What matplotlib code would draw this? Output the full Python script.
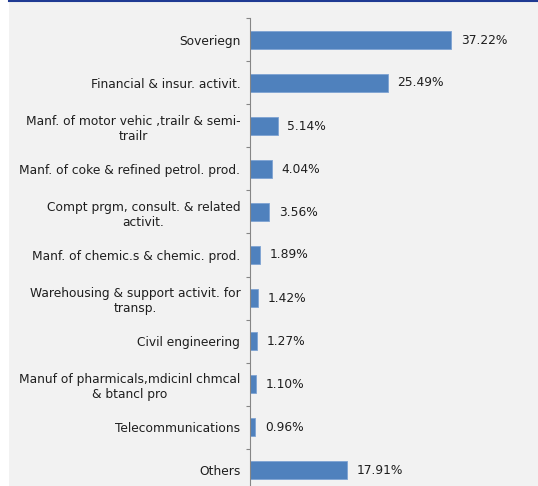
import matplotlib
matplotlib.use("Agg")
import matplotlib.pyplot as plt
from matplotlib.patches import Rectangle
from matplotlib.lines import Line2D

# sector exposure, top to bottom
sectors = [
    "Soveriegn",
    "Financial & insur. activit.",
    "Manf. of motor vehic ,trailr & semi-\ntrailr",
    "Manf. of coke & refined petrol. prod.",
    "Compt prgm, consult. & related\nactivit.",
    "Manf. of chemic.s & chemic. prod.",
    "Warehousing & support activit. for\ntransp.",
    "Civil engineering",
    "Manuf of pharmicals,mdicinl chmcal\n& btancl pro",
    "Telecommunications",
    "Others",
]
shares = [37.22, 25.49, 5.14, 4.04, 3.56, 1.89, 1.42, 1.27, 1.10, 0.96, 17.91]

BG = "#f2f2f2"
BAR = "#4f81bd"
TXT = "#1e1e1e"
AXIS = "#868686"
FS = 8.8

W, H = 538, 486
fig = plt.figure(figsize=(W / 100, H / 100), dpi=100, facecolor="white")

# grey panel with a thin blue rule on top
fig.patches.append(Rectangle((9 / W, 0), 1 - 9 / W, 1, transform=fig.transFigure,
                             facecolor=BG, edgecolor="none", zorder=-10))
fig.lines.append(Line2D([9 / W, 1], [1 - 1 / H, 1 - 1 / H], transform=fig.transFigure,
                        color="#1f3a93", lw=1.5, zorder=-5))

top = 1 - 18.5 / H
height = 473 / H
ax = fig.add_axes([250 / W, top - height, 281 / W, height])
ax.set_facecolor("none")

pos = list(range(len(sectors)))
ax.barh(pos, shares, height=0.43, color=BAR, edgecolor="#7ea3d3", linewidth=0.6)
ax.set_ylim(len(sectors) - 0.5, -0.5)
ax.set_xlim(0, 52)

for y, v in zip(pos, shares):
    ax.annotate(f"{v:.2f}%", (v, y), xytext=(7, 0), textcoords="offset points",
                ha="left", va="center", fontsize=FS, color=TXT)

ax.set_yticks(pos)
ax.set_yticklabels(sectors, fontsize=FS, color=TXT, multialignment="center")
ax.set_yticks([p + 0.5 for p in [-1] + pos], minor=True)
ax.tick_params(axis="y", which="major", length=0, pad=7)
ax.tick_params(axis="y", which="minor", length=3, color=AXIS, width=0.8)
ax.set_xticks([])

for side in ["top", "right", "bottom"]:
    ax.spines[side].set_visible(False)
ax.spines["left"].set_color(AXIS)
ax.spines["left"].set_linewidth(0.8)

fig.savefig("out.png", dpi=100, facecolor=fig.get_facecolor())
